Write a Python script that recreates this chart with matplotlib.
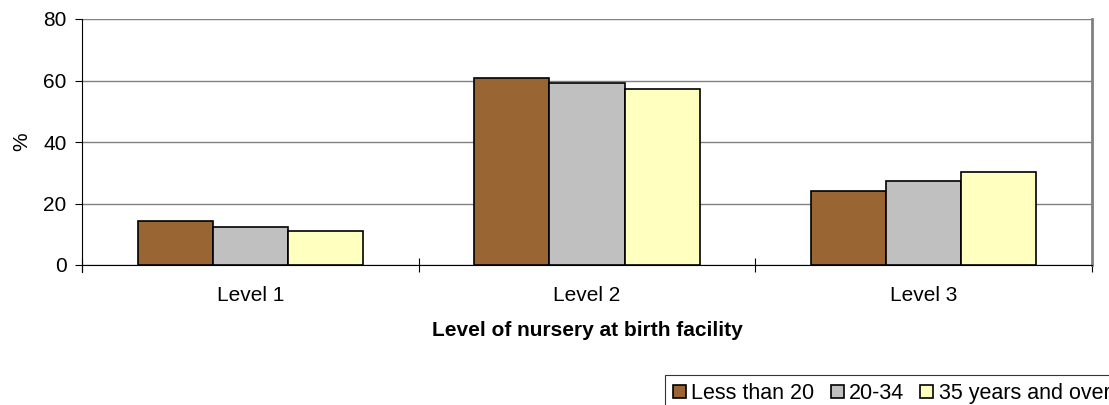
import numpy as np
import matplotlib.pyplot as plt
from matplotlib.ticker import FixedLocator

plt.rcParams['font.family'] = ['Liberation Sans', 'DejaVu Sans']

categories = ['Level 1', 'Level 2', 'Level 3']
series_names = ['Less than 20', '20-34', '35 years and over']
less_than_20 = [14.3, 60.9, 24.2]
age_20_34 = [12.2, 59.3, 27.3]
age_35_over = [10.9, 57.2, 30.3]
colors = ['#996633', '#C0C0C0', '#FFFFC0']

fig = plt.figure(figsize=(11.09, 4.05), dpi=100)
ax = fig.add_axes([82 / 1109, 1 - 265 / 405, 1010 / 1109, 246 / 405])

x = np.arange(len(categories))
width = 0.223
for i, (vals, name) in enumerate(zip([less_than_20, age_20_34, age_35_over], series_names)):
    ax.bar(x + (i - 1) * width, vals, width, color=colors[i], edgecolor='black',
           linewidth=1.2, label=name, zorder=3)

ax.set_xlim(-0.5, 2.5)
ax.set_ylim(0, 80)
ax.set_yticks([0, 20, 40, 60, 80])
ax.yaxis.grid(True, color='#808080', linewidth=1.0, zorder=0)
ax.set_xticks(x)
ax.set_xticklabels(categories, fontsize=15)
ax.xaxis.set_minor_locator(FixedLocator([-0.5, 0.5, 1.5, 2.5]))
ax.tick_params(axis='x', which='major', length=0, pad=15)
ax.tick_params(axis='x', which='minor', direction='inout', length=9.5, width=0.8)
ax.tick_params(axis='y', direction='out', length=5, width=0.8, labelsize=15, pad=6)

ax.spines['top'].set_visible(False)
ax.spines['right'].set_color('#808080')
ax.spines['right'].set_linewidth(2)
ax.spines['left'].set_linewidth(0.8)
ax.spines['bottom'].set_linewidth(0.8)
ax.spines['left'].set_bounds(-2.2, 80)

ax.set_ylabel('%', fontsize=15, labelpad=9)
ax.set_xlabel('Level of nursery at birth facility', fontsize=15, fontweight='bold', labelpad=12)

# legend sits low and runs off the right edge, as in the source image
leg = fig.legend(loc='upper left', bbox_to_anchor=(665 / 1109, 1 - 375 / 405), ncol=3,
                 fontsize=15.5, frameon=True, fancybox=False, edgecolor='black',
                 handlelength=0.6, handleheight=0.6, handletextpad=0.25,
                 columnspacing=0.75, borderpad=0.38, borderaxespad=0)
leg.get_frame().set_linewidth(0.8)

fig.savefig('out.png', dpi=100)
